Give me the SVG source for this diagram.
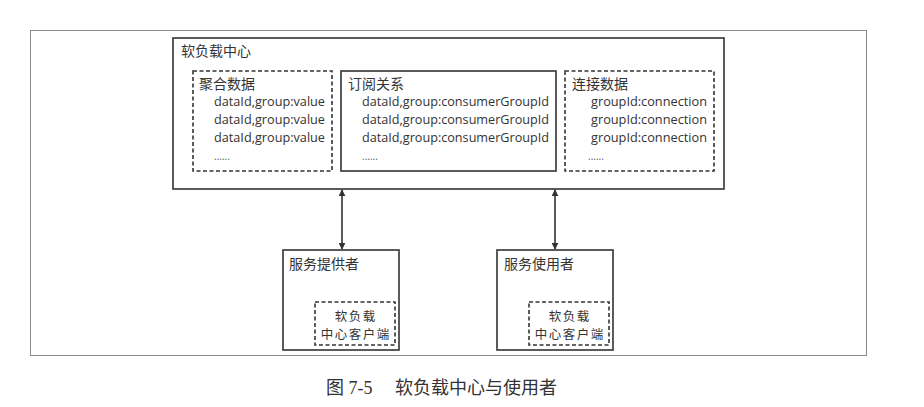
<svg xmlns="http://www.w3.org/2000/svg" width="924" height="407" viewBox="0 0 924 407">
<style>
.frame{fill:none;stroke:#8a8a8a;stroke-width:1}
.box{fill:#fff;stroke:#333;stroke-width:1.6}
.dash{fill:#fff;stroke:#333;stroke-width:1.6;stroke-dasharray:4 2.5}
.cjk{font-family:"Noto Sans CJK SC","Noto Sans",sans-serif;font-size:14px;fill:#333}
.cli{font-family:"Noto Sans CJK SC","Noto Sans",sans-serif;font-size:12.5px;letter-spacing:1.5px;fill:#333}
.lat{font-family:"Open Sans","Noto Sans",sans-serif;font-size:12.5px;fill:#333}
.dots{font-family:"Open Sans",sans-serif;font-size:10px;fill:#555}
.cap{font-family:"Liberation Serif","Noto Sans CJK SC",serif;font-size:18px;fill:#333}
.conn{stroke:#333;stroke-width:1.6;fill:none}
</style>
<defs>
<marker id="ah" viewBox="0 0 10 10" refX="9" refY="5" markerWidth="7" markerHeight="7" markerUnits="userSpaceOnUse" orient="auto-start-reverse">
<path d="M0,0 L10,5 L0,10 Z" fill="#333"/>
</marker>
</defs>
<rect width="924" height="407" fill="#fff"/>
<rect class="frame" x="30.5" y="30.5" width="836" height="325"/>

<g id="center">
<rect class="box" x="173" y="38" width="551" height="151"/>
<text class="cjk" x="181" y="56" font-size="14.5">软负载中心</text>
</g>

<g id="agg">
<rect class="dash" x="193" y="71" width="139" height="100"/>
<text class="cjk" x="199" y="89">聚合数据</text>
<text class="lat" x="214" y="106" textLength="111" lengthAdjust="spacingAndGlyphs">dataId,group:value</text>
<text class="lat" x="214" y="124" textLength="111" lengthAdjust="spacingAndGlyphs">dataId,group:value</text>
<text class="lat" x="214" y="142" textLength="111" lengthAdjust="spacingAndGlyphs">dataId,group:value</text>
<text class="dots" x="214" y="160">......</text>
</g>

<g id="sub">
<rect class="box" x="341" y="71" width="215" height="100"/>
<text class="cjk" x="348" y="89">订阅关系</text>
<text class="lat" x="362" y="106" textLength="187" lengthAdjust="spacingAndGlyphs">dataId,group:consumerGroupId</text>
<text class="lat" x="362" y="124" textLength="187" lengthAdjust="spacingAndGlyphs">dataId,group:consumerGroupId</text>
<text class="lat" x="362" y="142" textLength="187" lengthAdjust="spacingAndGlyphs">dataId,group:consumerGroupId</text>
<text class="dots" x="362" y="160">......</text>
</g>

<g id="conn">
<rect class="dash" x="565" y="71" width="149" height="100"/>
<text class="cjk" x="572" y="89">连接数据</text>
<text class="lat" x="591" y="106" textLength="116" lengthAdjust="spacingAndGlyphs">groupId:connection</text>
<text class="lat" x="591" y="124" textLength="116" lengthAdjust="spacingAndGlyphs">groupId:connection</text>
<text class="lat" x="591" y="142" textLength="116" lengthAdjust="spacingAndGlyphs">groupId:connection</text>
<text class="dots" x="588" y="160">......</text>
</g>

<g id="provider">
<rect class="box" x="283" y="250" width="116" height="100"/>
<text class="cjk" x="289" y="269">服务提供者</text>
<g id="provider-client">
<rect class="dash" x="315" y="302" width="80" height="43"/>
<text class="cli" x="355.7" y="321" text-anchor="middle">软负载</text>
<text class="cli" x="355.7" y="339" text-anchor="middle">中心客户端</text>
</g>
</g>

<g id="consumer">
<rect class="box" x="497" y="250" width="116" height="100"/>
<text class="cjk" x="504" y="269">服务使用者</text>
<g id="consumer-client">
<rect class="dash" x="529" y="302" width="80" height="43"/>
<text class="cli" x="569.7" y="321" text-anchor="middle">软负载</text>
<text class="cli" x="569.7" y="339" text-anchor="middle">中心客户端</text>
</g>
</g>

<g id="connectors">
<line class="conn" x1="342" y1="190" x2="342" y2="249" marker-start="url(#ah)" marker-end="url(#ah)"/>
<line class="conn" x1="555" y1="190" x2="555" y2="249" marker-start="url(#ah)" marker-end="url(#ah)"/>
</g>

<text class="cap" x="326" y="394">图 7-5<tspan x="395">软负载中心与使用者</tspan></text>
</svg>
